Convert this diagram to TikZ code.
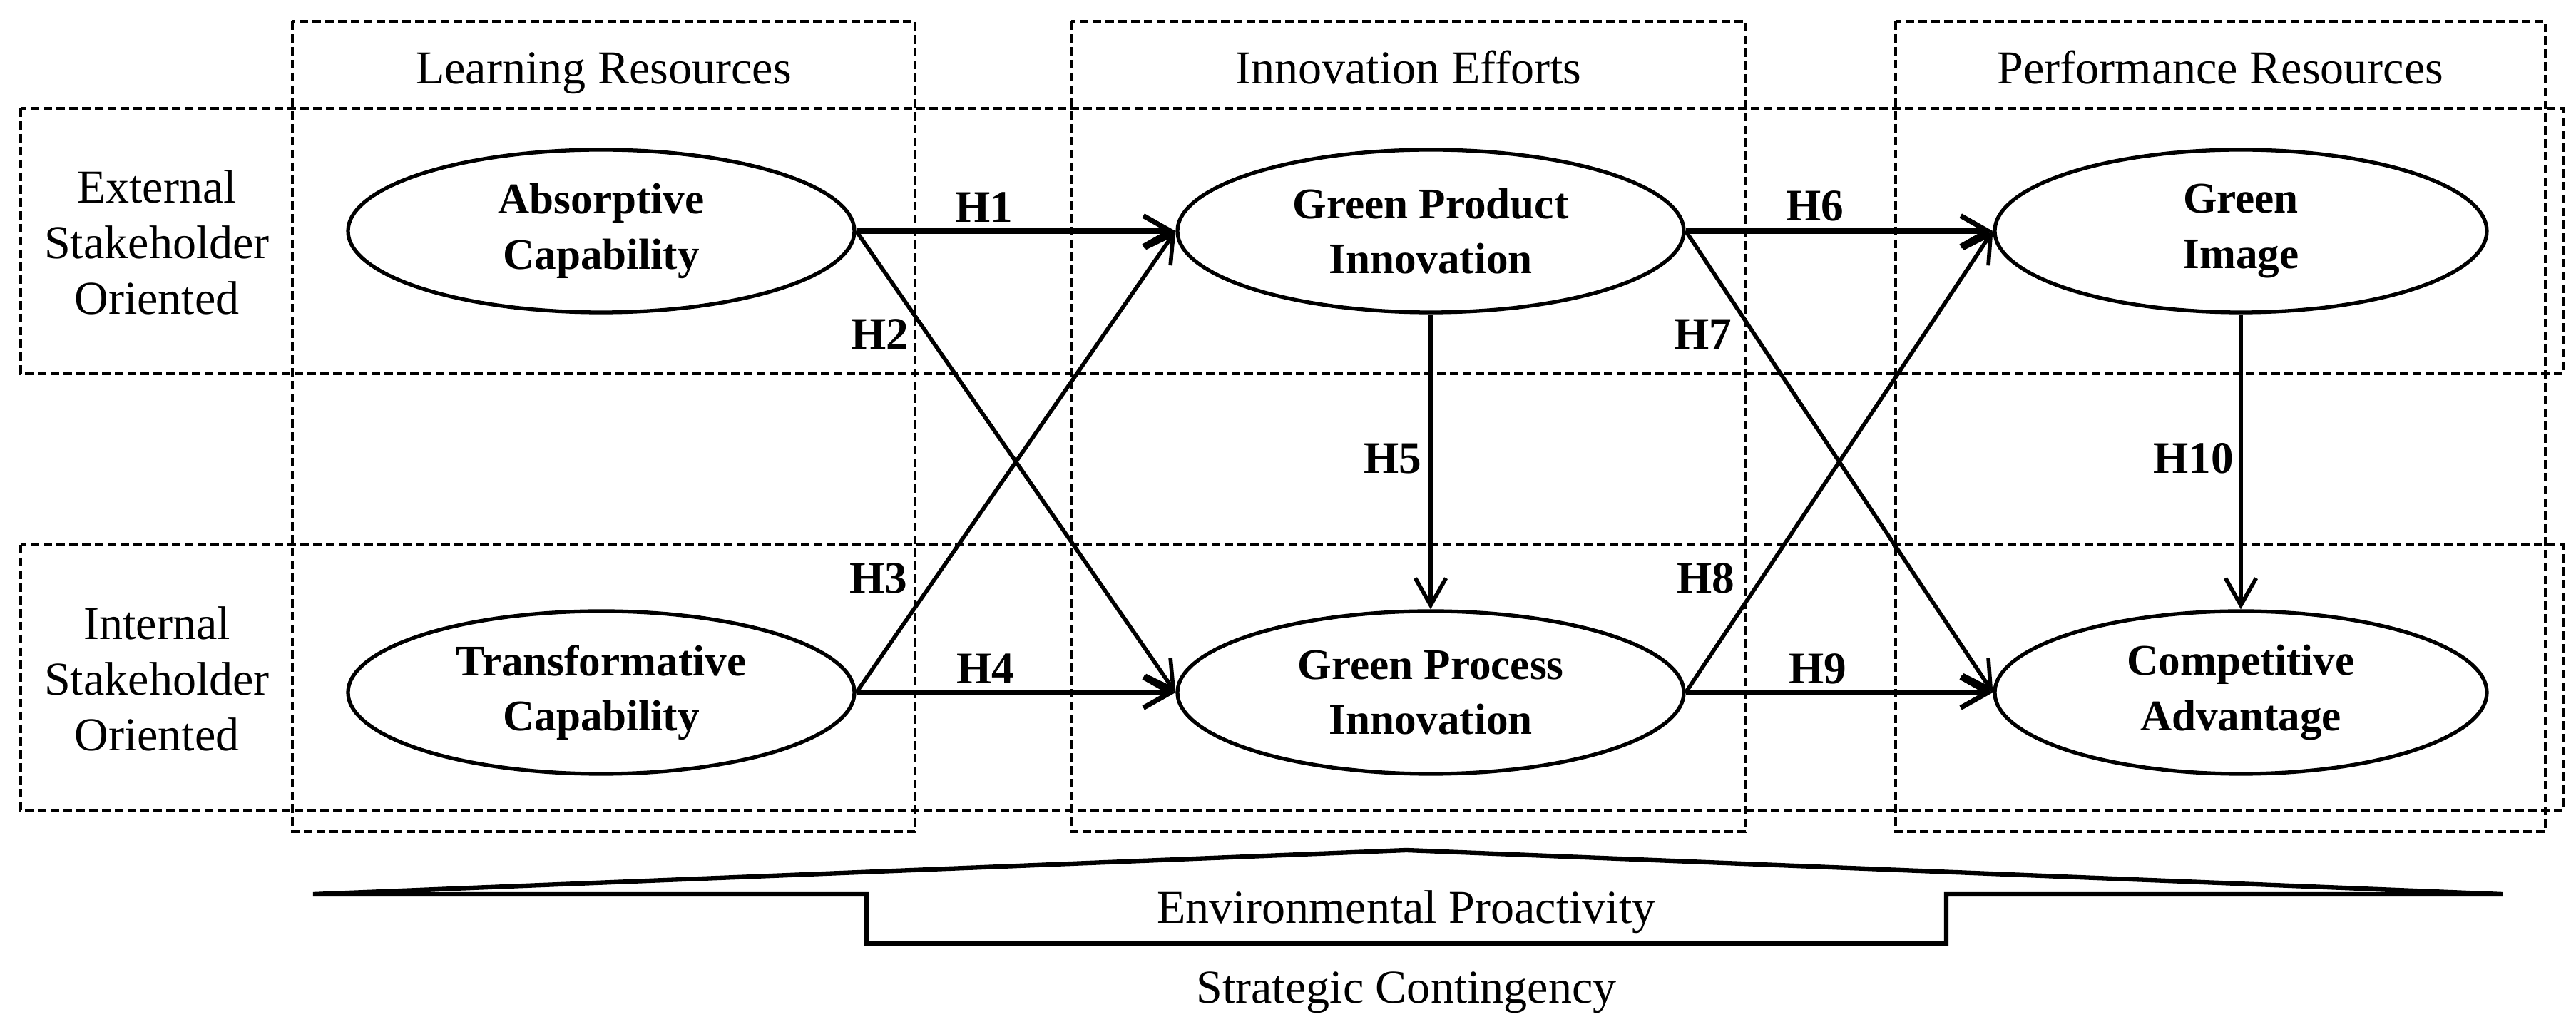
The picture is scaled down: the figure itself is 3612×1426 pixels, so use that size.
\documentclass[tikz,border=0pt]{standalone}
\usepackage{fontspec}
\setmainfont{Liberation Serif}
\usetikzlibrary{arrows.meta,shapes.geometric}
\tikzset{
  region/.style={draw, line width=0.55pt, dash pattern=on 0.6mm off 0.3mm},
  construct/.style={ellipse, draw, line width=0.75pt, minimum width=35.5mm, minimum height=11.4mm,
                    inner sep=0pt, align=center, font=\fontsize{8.7}{11}\selectfont\bfseries},
  heading/.style={font=\fontsize{9.4}{11.1}\selectfont, align=center},
  hyp/.style={font=\fontsize{9}{11}\selectfont\bfseries},
  link/.style={-{Straight Barb[length=1.9mm,width=2.15mm]}, line width=1pt},
  crosslink/.style={link, line width=0.8pt},
}
\begin{document}
\begin{tikzpicture}[x=0.05mm, y=-0.05mm]
    \useasboundingbox (0,0) rectangle (3612,1426);
    % stakeholder rows and resource columns
    \draw[region] (29,152) rectangle (3594,524);
    \draw[region] (29,764) rectangle (3594,1136);
    \foreach \l/\r/\t/\n in {410/1283/Learning Resources/learn, 1502/2448/Innovation Efforts/innov, 2658/3569/Performance Resources/perf}
      { \draw[region] (\l,30) rectangle (\r,1166);
        \node[heading, anchor=base] (\n) at ({(\l+\r)/2},118) {\t}; }
    \node[heading] (ext) at (220,340) {External\\Stakeholder\\Oriented};
    \node[heading] (int) at (220,952) {Internal\\Stakeholder\\Oriented};

    \node[construct] (absorb) at (843,324) {Absorptive\\Capability};
    \node[construct] (transf) at (843,971) {Transformative\\Capability};
    \node[construct] (gprod) at (2006,324) {Green Product\\Innovation};
    \node[construct] (gproc) at (2006,971) {Green Process\\Innovation};
    \node[construct, minimum width=34.5mm] (gimage) at (3142,324) {Green\\Image};
    \node[construct, minimum width=34.5mm] (compadv) at (3142,971) {Competitive\\Advantage};

    % hypotheses
    \draw[link] (absorb.east) -- (gprod.west);
    \draw[crosslink] (absorb.east) -- (gproc.west);
    \draw[crosslink] (transf.east) -- (gprod.west);
    \draw[link] (transf.east) -- (gproc.west);
    \draw[crosslink] (gprod.south) -- (gproc.north);
    \draw[link] (gprod.east) -- (gimage.west);
    \draw[crosslink] (gprod.east) -- (compadv.west);
    \draw[crosslink] (gproc.east) -- (gimage.west);
    \draw[link] (gproc.east) -- (compadv.west);
    \draw[crosslink] (gimage.south) -- (compadv.north);
    \foreach \h/\x/\y in {1/1380/291, 2/1234/469, 3/1232/811, 4/1382/938, 5/1953/643,
                          6/2545/289, 7/2388/469, 8/2392/811, 9/2549/938, 10/3076/643}
      \node[hyp] (h\h) at (\x,\y) {H\h};

    % contingency base
    \draw[line width=0.9pt] (439,1254) -- (1972,1192) -- (3509,1254) -- (2729,1254) -- (2729,1323)
      -- (1215,1323) -- (1215,1254) -- cycle;
    \node[heading] (envpro) at (1972,1279) {Environmental Proactivity};
    \node[heading] (stratc) at (1972,1392) {Strategic Contingency};
\end{tikzpicture}
\end{document}
